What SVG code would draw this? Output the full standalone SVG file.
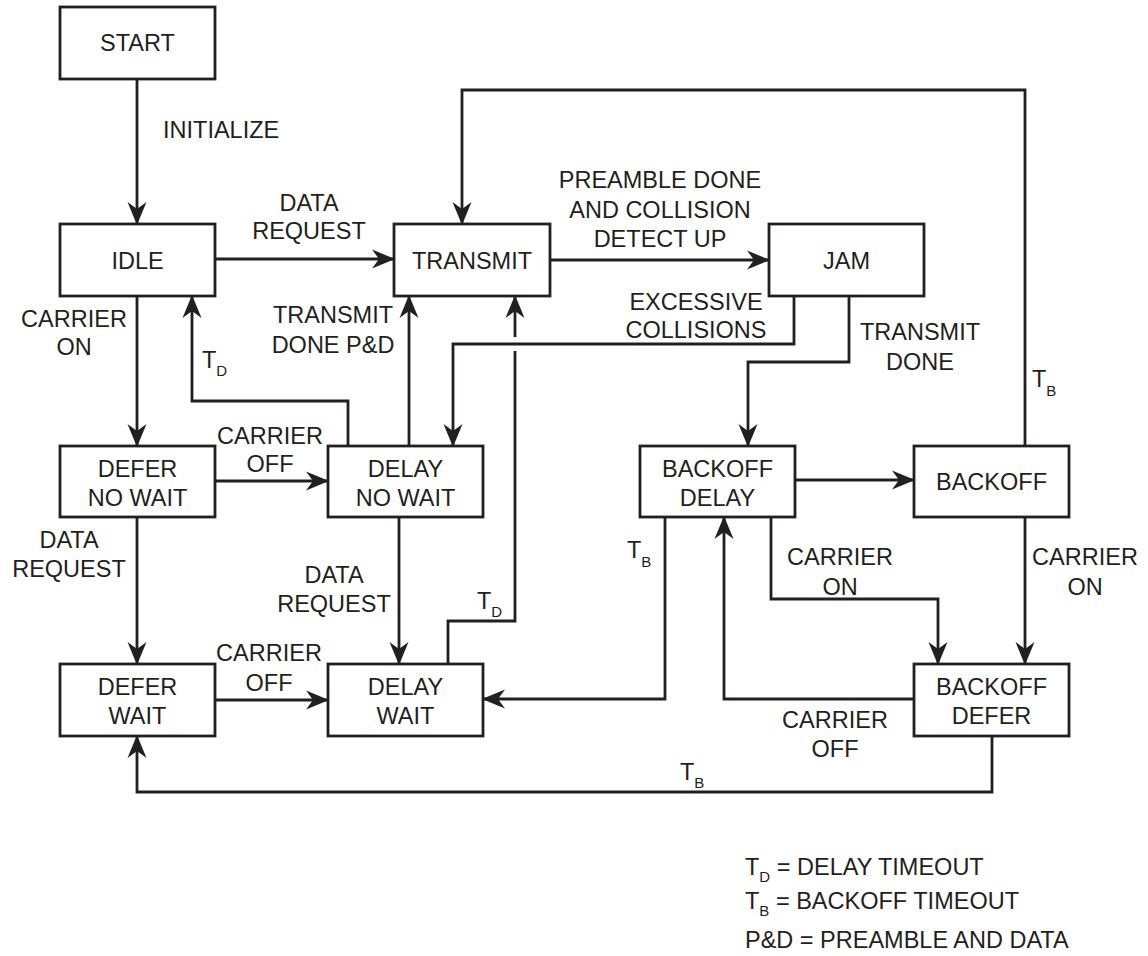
<svg xmlns="http://www.w3.org/2000/svg" width="1148" height="956" viewBox="0 0 1148 956">
<style>
  .box { fill: #ffffff; stroke: #231f20; stroke-width: 2.8; }
  .wire { fill: none; stroke: #231f20; stroke-width: 2.8; }
  .arr { marker-end: url(#ah); }
  text { font-family: "Liberation Sans", Arial, sans-serif; font-size: 23.5px; fill: #231f20; }
  .c { text-anchor: middle; }
  .sub { font-size: 15px; }
</style>
<defs>
  <marker id="ah" markerUnits="userSpaceOnUse" markerWidth="30" markerHeight="30" refX="0" refY="0" orient="auto" overflow="visible">
    <path d="M1,0 L-22,-9.5 L-15,0 L-22,9.5 Z" fill="#231f20"/>
  </marker>
</defs>
<rect width="1148" height="956" fill="#ffffff"/>

<g id="connectors">
  <path class="wire arr" d="M137,79 V224"/>
  <path class="wire arr" d="M215,259 H394"/>
  <path class="wire arr" d="M550,260 H769"/>
  <path class="wire arr" d="M1025,446 V90 H462 V224"/>
  <path class="wire arr" d="M794,296 V344 H453 V446"/>
  <path class="wire arr" d="M849,296 V362 H748 V446"/>
  <path class="wire arr" d="M137,296 V446"/>
  <path class="wire arr" d="M348,446 V401 H192 V296"/>
  <path class="wire arr" d="M409,446 V296"/>
  <path class="wire arr" d="M215,481 H328"/>
  <path class="wire arr" d="M137,517 V664"/>
  <path class="wire arr" d="M399,517 V664"/>
  <path class="wire" d="M448,664 V621 H515 V351"/>
  <path class="wire arr" d="M515,337 V296"/>
  <path class="wire arr" d="M215,700 H328"/>
  <path class="wire arr" d="M795,480 H914"/>
  <path class="wire arr" d="M665,517 V699 H483"/>
  <path class="wire arr" d="M914,699 H724 V517"/>
  <path class="wire arr" d="M771,517 V599 H938 V664"/>
  <path class="wire arr" d="M1025,517 V664"/>
  <path class="wire arr" d="M992,736 V792 H137 V736"/>
</g>

<g id="start"><rect class="box" x="60" y="7" width="155" height="72"/><text class="c" x="137.5" y="51">START</text></g>
<g id="idle"><rect class="box" x="60" y="224" width="155" height="72"/><text class="c" x="137.5" y="269">IDLE</text></g>
<g id="transmit"><rect class="box" x="394" y="224" width="156" height="72"/><text class="c" x="472" y="269">TRANSMIT</text></g>
<g id="jam"><rect class="box" x="769" y="224" width="155" height="72"/><text class="c" x="846.5" y="269">JAM</text></g>
<g id="defer-no-wait"><rect class="box" x="60" y="446" width="155" height="71"/><text class="c" x="137.5" y="477">DEFER</text><text class="c" x="137.5" y="506">NO WAIT</text></g>
<g id="delay-no-wait"><rect class="box" x="328" y="446" width="155" height="71"/><text class="c" x="405.5" y="477">DELAY</text><text class="c" x="405.5" y="506">NO WAIT</text></g>
<g id="backoff-delay"><rect class="box" x="640" y="446" width="155" height="71"/><text class="c" x="717.5" y="477">BACKOFF</text><text class="c" x="717.5" y="506">DELAY</text></g>
<g id="backoff"><rect class="box" x="914" y="446" width="155" height="71"/><text class="c" x="991.5" y="490">BACKOFF</text></g>
<g id="defer-wait"><rect class="box" x="60" y="664" width="155" height="72"/><text class="c" x="137.5" y="695">DEFER</text><text class="c" x="137.5" y="724">WAIT</text></g>
<g id="delay-wait"><rect class="box" x="328" y="664" width="155" height="72"/><text class="c" x="405.5" y="695">DELAY</text><text class="c" x="405.5" y="724">WAIT</text></g>
<g id="backoff-defer"><rect class="box" x="914" y="664" width="155" height="72"/><text class="c" x="991.5" y="695">BACKOFF</text><text class="c" x="991.5" y="724">DEFER</text></g>

<g id="labels">
  <text x="163" y="138">INITIALIZE</text>
  <text class="c" x="309" y="211">DATA</text><text class="c" x="309" y="239">REQUEST</text>
  <text class="c" x="660" y="188">PREAMBLE DONE</text><text class="c" x="660" y="218">AND COLLISION</text><text class="c" x="660" y="247">DETECT UP</text>
  <text class="c" x="696" y="310">EXCESSIVE</text><text class="c" x="696" y="338">COLLISIONS</text>
  <text class="c" x="920" y="340">TRANSMIT</text><text class="c" x="920" y="370">DONE</text>
  <text x="1032" y="387">T<tspan class="sub" dy="9">B</tspan></text>
  <text class="c" x="74" y="327">CARRIER</text><text class="c" x="74" y="355">ON</text>
  <text x="202" y="368">T<tspan class="sub" dy="8">D</tspan></text>
  <text class="c" x="333" y="323">TRANSMIT</text><text class="c" x="333" y="353">DONE P&amp;D</text>
  <text class="c" x="270" y="444">CARRIER</text><text class="c" x="270" y="472">OFF</text>
  <text class="c" x="69" y="548">DATA</text><text class="c" x="69" y="577">REQUEST</text>
  <text class="c" x="334" y="583">DATA</text><text class="c" x="334" y="612">REQUEST</text>
  <text x="477" y="609">T<tspan class="sub" dy="8">D</tspan></text>
  <text x="627" y="558">T<tspan class="sub" dy="9">B</tspan></text>
  <text class="c" x="840" y="565">CARRIER</text><text class="c" x="840" y="595">ON</text>
  <text class="c" x="1085" y="565">CARRIER</text><text class="c" x="1085" y="595">ON</text>
  <text class="c" x="269" y="661">CARRIER</text><text class="c" x="269" y="691">OFF</text>
  <text class="c" x="835" y="728">CARRIER</text><text class="c" x="835" y="757">OFF</text>
  <text x="680" y="780">T<tspan class="sub" dy="8">B</tspan></text>
</g>

<g id="legend">
  <text x="745" y="875">T<tspan class="sub" dy="7">D</tspan><tspan dy="-7"> = DELAY TIMEOUT</tspan></text>
  <text x="745" y="909">T<tspan class="sub" dy="7">B</tspan><tspan dy="-7"> = BACKOFF TIMEOUT</tspan></text>
  <text x="745" y="948">P&amp;D = PREAMBLE AND DATA</text>
</g>
</svg>
